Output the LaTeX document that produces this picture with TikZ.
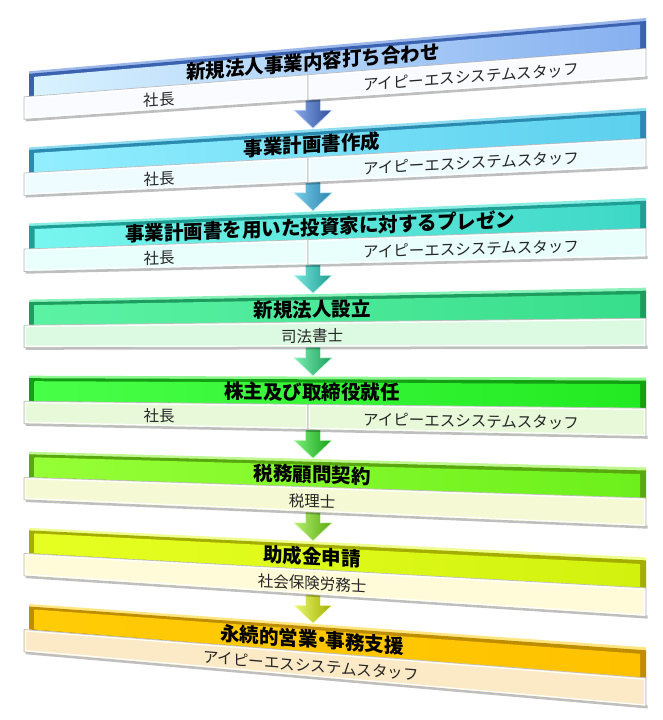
\documentclass[tikz,border=0pt]{standalone}
\usepackage{fontspec}
\newfontfamily\jp{Noto Sans CJK JP}
\usetikzlibrary{calc}
% header colours: hl = top highlight, dk = bevel, cl/cr = inner left/right, sb = sub band
\definecolor{hl1}{HTML}{9CB8EA}\definecolor{dk1}{HTML}{3A62B0}\definecolor{cl1}{HTML}{D8F2FF}\definecolor{cr1}{HTML}{86B0F0}\definecolor{sb1}{HTML}{F9FBFF}
\definecolor{hl2}{HTML}{90DCF0}\definecolor{dk2}{HTML}{2A8AB0}\definecolor{cl2}{HTML}{92EEFF}\definecolor{cr2}{HTML}{5CD0EE}\definecolor{sb2}{HTML}{EEFBFF}
\definecolor{hl3}{HTML}{8AEEE2}\definecolor{dk3}{HTML}{1E9E94}\definecolor{cl3}{HTML}{78F6F0}\definecolor{cr3}{HTML}{3ED8C6}\definecolor{sb3}{HTML}{E8FFFB}
\definecolor{hl4}{HTML}{8AF2BA}\definecolor{dk4}{HTML}{1E9E5E}\definecolor{cl4}{HTML}{5CF2A4}\definecolor{cr4}{HTML}{38DE8C}\definecolor{sb4}{HTML}{DCFAE2}
\definecolor{hl5}{HTML}{90F890}\definecolor{dk5}{HTML}{14A014}\definecolor{cl5}{HTML}{48FF48}\definecolor{cr5}{HTML}{22EA22}\definecolor{sb5}{HTML}{E8F9DA}
\definecolor{hl6}{HTML}{C0F890}\definecolor{dk6}{HTML}{5AA810}\definecolor{cl6}{HTML}{96FF36}\definecolor{cr6}{HTML}{6CF01C}\definecolor{sb6}{HTML}{F5FAD4}
\definecolor{hl7}{HTML}{F0FF90}\definecolor{dk7}{HTML}{A4AE00}\definecolor{cl7}{HTML}{E6FF22}\definecolor{cr7}{HTML}{D2F20E}\definecolor{sb7}{HTML}{FFFBD8}
\definecolor{hl8}{HTML}{FFE680}\definecolor{dk8}{HTML}{BE8E00}\definecolor{cl8}{HTML}{FFCC06}\definecolor{cr8}{HTML}{FFC200}\definecolor{sb8}{HTML}{FCE9C5}
% arrow colours
\definecolor{al1}{HTML}{8AAAE8}\definecolor{ad1}{HTML}{2E4E9E}
\definecolor{al2}{HTML}{7ACCEA}\definecolor{ad2}{HTML}{2A84AE}
\definecolor{al3}{HTML}{7AE6DC}\definecolor{ad3}{HTML}{1E9C92}
\definecolor{al4}{HTML}{7AEEB0}\definecolor{ad4}{HTML}{1E9E5E}
\definecolor{al5}{HTML}{7AF07A}\definecolor{ad5}{HTML}{16A016}
\definecolor{al6}{HTML}{B4F070}\definecolor{ad6}{HTML}{5AAA10}
\definecolor{al7}{HTML}{E8F870}\definecolor{ad7}{HTML}{A4B000}

\newcommand\blkgeom[1]{%
  \pgfmathsetmacro\yTL{71.3+76.1*(#1-1)}%
  \pgfmathsetmacro\yTR{18+89.9*(#1-1)}%
  \pgfmathsetmacro\ySL{\yTL+25.5}%
  \pgfmathsetmacro\ySR{\yTR+30.5}%
  \pgfmathsetmacro\yBL{\yTL+48}%
  \pgfmathsetmacro\yBR{\yTR+59}%
}
\newcommand\blkheader[3]{% index, title, title x
  \fill[hl#1] (29,\yTL) -- (646,\yTR) -- (646,\ySR) -- (29,\ySL) -- cycle;
  \fill[dk#1] (29,\yTL+2.5) -- (646,\yTR+3) -- (646,\ySR) -- (29,\ySL) -- cycle;
  \shade[left color=cl#1,right color=cr#1] (34.5,\yTL+5.5) -- (640,\yTR+6.5) -- (640,\ySR) -- (34.5,\ySL) -- cycle;
  \pgfmathsetmacro\tfr{(#3-24)/622}%
  \pgfmathsetmacro\yc{(\yTL+\ySL)/2*(1-\tfr)+(\yTR+\ySR)/2*\tfr+1.5}%
  \pgfmathsetmacro\sk{-((\yTR+\ySR)-(\yTL+\ySL))/2/622}%
  \begin{scope}[shift={(#3,\yc)}]
    \node[titletext,yslant=\sk] (title#1) at (0,0) {#2};
  \end{scope}
}
\newcommand\blkcell[6]{% index, x0, x1, text, text x, name
  \pgfmathsetmacro\ua{\ySL+(\ySR-\ySL)/622*(#2-24)}%
  \pgfmathsetmacro\ub{\ySL+(\ySR-\ySL)/622*(#3-24)}%
  \pgfmathsetmacro\va{\yBL+(\yBR-\yBL)/622*(#2-24)}%
  \pgfmathsetmacro\vb{\yBL+(\yBR-\yBL)/622*(#3-24)}%
  \fill[black,opacity=.25] (#2+1.5,\va-1) -- (#3+1.5,\vb-1) -- (#3+1.5,\vb+2.2) -- (#2+1.5,\va+2.2) -- cycle;
  \fill[sb#1] (#2,\ua) -- (#3,\ub) -- (#3,\vb) -- (#2,\va) -- cycle;
  \draw[white,line width=1.2] (#2+1.6,\ua+1.4) -- (#3-1.6,\ub+1.4) -- (#3-1.6,\vb-1.4) -- (#2+1.6,\va-1.4) -- cycle;
  \draw[gray!55,line width=.6] (#2,\ua) -- (#3,\ub) -- (#3,\vb) -- (#2,\va) -- cycle;
  \pgfmathsetmacro\tfr{(#5-24)/622}%
  \pgfmathsetmacro\yc{(\ySL+\yBL)/2*(1-\tfr)+(\ySR+\yBR)/2*\tfr+1.5}%
  \pgfmathsetmacro\sk{-((\ySR+\yBR)-(\ySL+\yBL))/2/622}%
  \begin{scope}[shift={(#5,\yc)}]
    \node[subtext,yslant=\sk] (#6) at (0,0) {#4};
  \end{scope}
}
\newcommand\blkarrow[1]{%
  \pgfmathsetmacro\ys{(71.3+76.1*(#1-1)+48)*(1-0.4646)+(18+89.9*(#1-1)+59)*0.4646}%
  \pgfmathsetmacro\ye{(71.3+76.1*(#1))*(1-0.4646)+(18+89.9*(#1))*0.4646}%
  \coordinate (a#1s) at (313,\ys-4);
  \coordinate (a#1t) at (313,\ye-0.8);
  \shade[left color=al#1,right color=ad#1,draw=al#1!45!white,line width=.6]
    ($(a#1s)+(-7.5,0)$) -- ($(a#1t)+(-7.5,-18)$) -- ($(a#1t)+(-19,-18)$) -- (a#1t)
    -- ($(a#1t)+(19,-18)$) -- ($(a#1t)+(7.5,-18)$) -- ($(a#1s)+(7.5,0)$) -- cycle;
}

\begin{document}
\begin{tikzpicture}[x=1pt,y=-1pt,
  titletext/.style={font=\jp\bfseries\fontsize{19.5}{20}\selectfont,inner sep=0pt,text=black},
  subtext/.style={font=\jp\fontsize{15.5}{16}\selectfont,inner sep=0pt,text=black!85}]
\useasboundingbox (0,0) rectangle (663,720);
\fill[white] (0,0) rectangle (663,720);

% arrows (behind the blocks)
\foreach \k in {1,...,7}{\blkarrow{\k}}

% block 1
\blkgeom{1}
\blkheader{1}{新規法人事業内容打ち合わせ}{313}
\blkcell{1}{24}{308}{社長}{159}{s1a}
\blkcell{1}{308}{646}{アイピーエスシステムスタッフ}{471}{s1b}

% block 2
\blkgeom{2}
\blkheader{2}{事業計画書作成}{312}
\blkcell{2}{24}{308}{社長}{159}{s2a}
\blkcell{2}{308}{646}{アイピーエスシステムスタッフ}{471}{s2b}

% block 3
\blkgeom{3}
\blkheader{3}{事業計画書を用いた投資家に対するプレゼン}{320}
\blkcell{3}{24}{308}{社長}{159}{s3a}
\blkcell{3}{308}{646}{アイピーエスシステムスタッフ}{471}{s3b}

% block 4
\blkgeom{4}
\blkheader{4}{新規法人設立}{312}
\blkcell{4}{24}{646}{司法書士}{312}{s4}

% block 5
\blkgeom{5}
\blkheader{5}{株主及び取締役就任}{312}
\blkcell{5}{24}{308}{社長}{159}{s5a}
\blkcell{5}{308}{646}{アイピーエスシステムスタッフ}{471}{s5b}

% block 6
\blkgeom{6}
\blkheader{6}{税務顧問契約}{312}
\blkcell{6}{24}{646}{税理士}{312}{s6}

% block 7
\blkgeom{7}
\blkheader{7}{助成金申請}{312}
\blkcell{7}{24}{646}{社会保険労務士}{312}{s7}

% block 8
\blkgeom{8}
\blkheader{8}{永続的営業\kern-.3em・\kern-.3em 事務支援}{312}
\blkcell{8}{24}{646}{アイピーエスシステムスタッフ}{311}{s8}
\end{tikzpicture}
\end{document}
